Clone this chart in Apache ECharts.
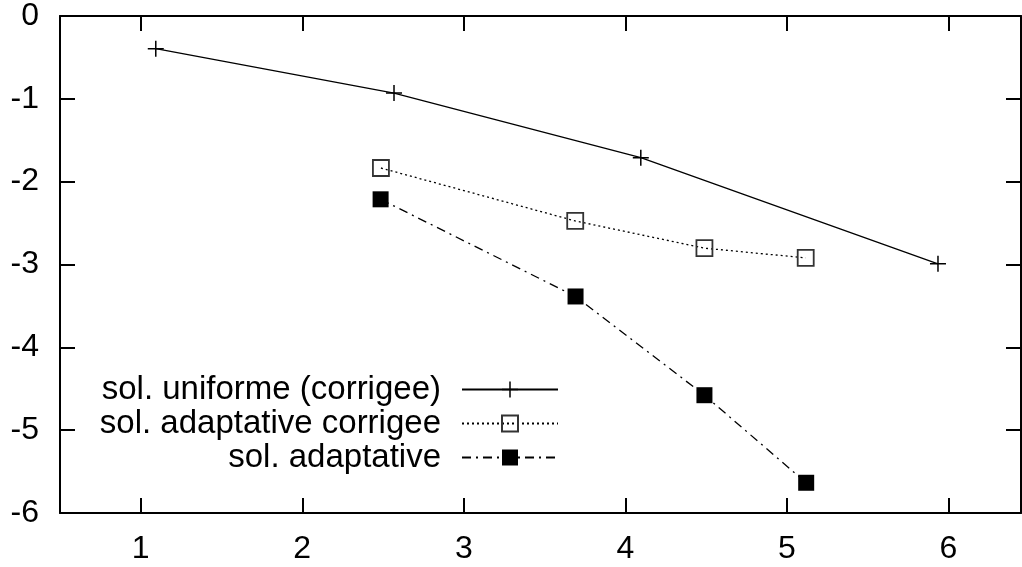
<!DOCTYPE html>
<html>
<head>
<meta charset="utf-8">
<script src="https://cdn.jsdelivr.net/npm/echarts@6/dist/echarts.min.js"></script>
<style>
html,body{margin:0;padding:0;background:#fff;}
#c{width:1022px;height:567px;}
</style>
</head>
<body>
<div id="c"></div>
<script>
// ---- data ----
const seriesNames = ['sol. uniforme (corrigee)', 'sol. adaptative corrigee', 'sol. adaptative'];
const uniformX = [1.093, 2.568, 4.096, 5.936];
const uniformY = [-0.394, -0.931, -1.711, -2.992];
const adaptCorrX = [2.487, 3.69, 4.49, 5.117];
const adaptCorrY = [-1.835, -2.474, -2.803, -2.92];
const adaptX = [2.485, 3.692, 4.49, 5.12];
const adaptY = [-2.213, -3.386, -4.578, -5.635];
const xTicks = [1, 2, 3, 4, 5, 6];
const yTicks = [0, -1, -2, -3, -4, -5, -6];

const pairs = (xs, ys) => xs.map((x, i) => [x, ys[i]]);
const FONT = 'Liberation Sans, Arial, sans-serif';
const plusPath = 'path://M7.25,0h1.5v7.25h7.25v1.5h-7.25v7.25h-1.5v-7.25h-7.25v-1.5h7.25z';

const chart = echarts.init(document.getElementById('c'), null, {renderer: 'canvas'});

const frameLine = {show: true, onZero: false, lineStyle: {color: '#000', width: 2}};
const tickStyle = {show: true, inside: true, length: 15, lineStyle: {color: '#000', width: 2}};

function mkLegend(name, top) {
  return {
    data: [name],
    orient: 'horizontal',
    align: 'right',
    right: 463,
    top: top,
    itemWidth: 96,
    itemHeight: 20,
    padding: 0,
    selectedMode: false,
    textStyle: {fontSize: 33, fontFamily: FONT, color: '#000', padding: [0, 16, 0, 0]}
  };
}

chart.setOption({
  animation: false,
  backgroundColor: '#fff',
  grid: {left: 60, right: 1, top: 15, bottom: 54, containLabel: false},
  xAxis: [{
    type: 'value', min: 0.5, max: 6.45, position: 'bottom',
    axisLine: frameLine,
    axisTick: Object.assign({customValues: xTicks}, tickStyle),
    axisLabel: {customValues: xTicks, fontSize: 32, fontFamily: FONT, color: '#000', margin: 20},
    splitLine: {show: false}
  }, {
    type: 'value', min: 0.5, max: 6.45, position: 'top',
    axisLine: frameLine,
    axisTick: Object.assign({customValues: xTicks}, tickStyle),
    axisLabel: {show: false},
    splitLine: {show: false}
  }],
  yAxis: [{
    type: 'value', min: -6, max: 0, position: 'left',
    axisLine: frameLine,
    axisTick: Object.assign({customValues: yTicks}, tickStyle),
    axisLabel: {customValues: yTicks, fontSize: 32, fontFamily: FONT, color: '#000', margin: 21},
    splitLine: {show: false}
  }, {
    type: 'value', min: -6, max: 0, position: 'right',
    axisLine: frameLine,
    axisTick: Object.assign({customValues: yTicks}, tickStyle),
    axisLabel: {show: false},
    splitLine: {show: false}
  }],
  legend: [
    mkLegend(seriesNames[0], 373),
    mkLegend(seriesNames[1], 407),
    mkLegend(seriesNames[2], 441)
  ],
  series: [{
    name: seriesNames[0], type: 'line',
    data: pairs(uniformX, uniformY),
    symbol: plusPath, symbolSize: 16,
    lineStyle: {color: '#000', width: 1.3, type: 'solid'},
    itemStyle: {color: '#000'}
  }, {
    name: seriesNames[1], type: 'line',
    data: pairs(adaptCorrX, adaptCorrY),
    symbol: 'rect', symbolSize: 16,
    lineStyle: {color: '#000', width: 1.3, type: [2, 3]},
    itemStyle: {color: 'rgba(0,0,0,0)', borderColor: '#333', borderWidth: 1.8}
  }, {
    name: seriesNames[2], type: 'line',
    data: pairs(adaptX, adaptY),
    symbol: 'rect', symbolSize: 16,
    lineStyle: {color: '#000', width: 1.3, type: [9, 5, 2, 5]},
    itemStyle: {color: '#000'}
  }]
});
</script>
</body>
</html>
